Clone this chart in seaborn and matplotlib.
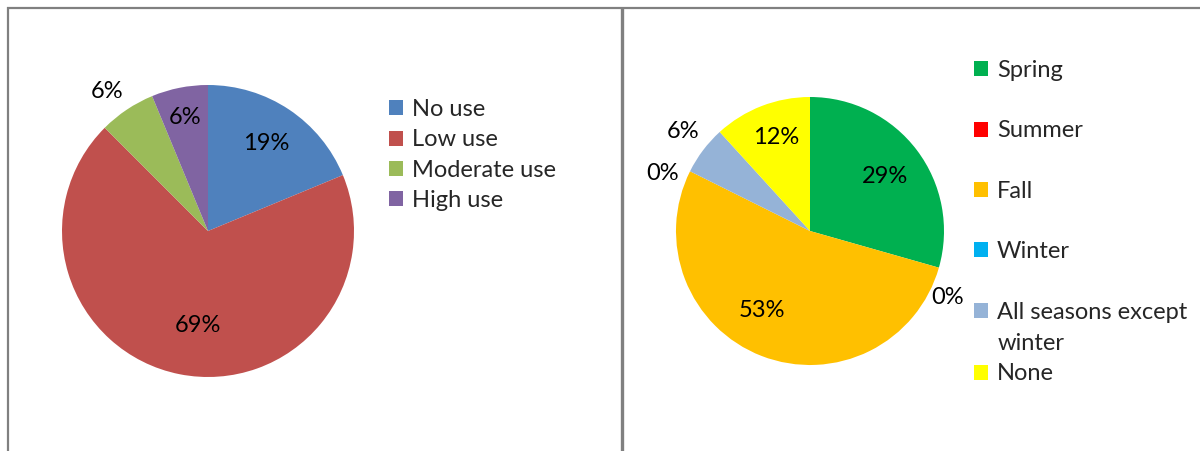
import textwrap
import numpy as np
import matplotlib
matplotlib.use("Agg")
import matplotlib.pyplot as plt
from matplotlib.lines import Line2D
import seaborn as sns

# ---- data ----
use_labels = ["No use", "Low use", "Moderate use", "High use"]
use_counts = [3, 11, 1, 1]
season_labels = ["Spring", "Summer", "Fall", "Winter", "All seasons except winter", "None"]
season_counts = [5, 0, 9, 0, 1, 2]

# ---- style ----
use_colors = ["#4F81BD", "#C0504D", "#9BBB59", "#8064A2"]
season_colors = ["#00B050", "#FF0000", "#FFC000", "#00B0F0", "#95B3D7", "#FFFF00"]
use_lab_r = [0.72, 0.65, 1.18, 0.79]
use_lab_da = [0, 5, 2, 0]
season_lab_r = [0.69, 1.14, 0.69, 1.18, 1.20, 0.74]
season_lab_da = [-1, -10, -10, 5, -1, -1]

sns.set_theme(style="white")
plt.rcParams["font.family"] = ["Lato", "DejaVu Sans"]
FS = 17

W, H = 1200, 451
DPI = 100
fig = plt.figure(figsize=(W / DPI, H / DPI), dpi=DPI)


def px_axes(cx, cy, r):
    return fig.add_axes([(cx - r) / W, (H - cy - r) / H, 2 * r / W, 2 * r / H])


def draw_pie(ax, counts, colors, lab_r, lab_da):
    wedges, _, autotexts = ax.pie(counts, colors=colors, startangle=90, counterclock=False,
                                  autopct="%.0f%%", wedgeprops=dict(linewidth=0),
                                  textprops=dict(fontsize=FS, color="black"))
    for w, t, rf, da in zip(wedges, autotexts, lab_r, lab_da):
        ang = np.deg2rad((w.theta1 + w.theta2) / 2 + da)
        t.set_position((rf * np.cos(ang), rf * np.sin(ang)))
        t.set_ha("center")
        t.set_va("center")
    ax.set_xlim(-1, 1)
    ax.set_ylim(-1, 1)
    ax.set_aspect("equal")
    ax.axis("off")
    return wedges


leg_kw = dict(frameon=False, fontsize=FS, handlelength=0.6, handleheight=0.6,
              handletextpad=0.38, borderpad=0, borderaxespad=0)

ax1 = px_axes(208, 231, 146)
w1 = draw_pie(ax1, use_counts, use_colors, use_lab_r, use_lab_da)
leg1 = fig.legend(w1, use_labels, loc="center left",
                  bbox_to_anchor=(389 / W, 1 - 155 / H), labelspacing=0.39, **leg_kw)

ax2 = px_axes(810, 231, 134)
w2 = draw_pie(ax2, season_counts, season_colors, season_lab_r, season_lab_da)
wrapped = [textwrap.fill(s, 18) for s in season_labels]
leg2 = fig.legend(w2[:5], wrapped[:5], loc="upper left",
                  bbox_to_anchor=(974 / W, 1 - 60 / H), labelspacing=1.67, **leg_kw)
for t in leg2.get_texts():
    t.set_linespacing(1.6)
leg3 = fig.legend(w2[5:], wrapped[5:], loc="center left",
                  bbox_to_anchor=(974 / W, 1 - 374 / H), **leg_kw)

# align the marker of the wrapped entry with its first text line
fig.canvas.draw()
rend = fig.canvas.get_renderer()
texts2 = leg2.get_texts()
handles2 = leg2.legend_handles
ref_off = texts2[0].get_window_extent(rend).y1 - handles2[0].get_window_extent(rend).y1
for t, h in zip(texts2, handles2):
    if "\n" in t.get_text():
        cur_off = t.get_window_extent(rend).y1 - h.get_window_extent(rend).y1
        h.set_y(h.get_y() + (cur_off - ref_off) * 72 / DPI)

# ---- panel borders ----
def fig_line(x0, y0, x1, y1, color, lw):
    fig.add_artist(Line2D([x0 / W, x1 / W], [1 - y0 / H, 1 - y1 / H],
                          transform=fig.transFigure, color=color, linewidth=lw,
                          solid_capstyle="butt"))

fig_line(7, 7.5, W, 7.5, "#808080", 1.6)
fig_line(7.5, 7, 7.5, H, "#808080", 1.6)
fig_line(622, 7, 622, H, "#808080", 2.4)

fig.savefig("out.png", dpi=DPI)
